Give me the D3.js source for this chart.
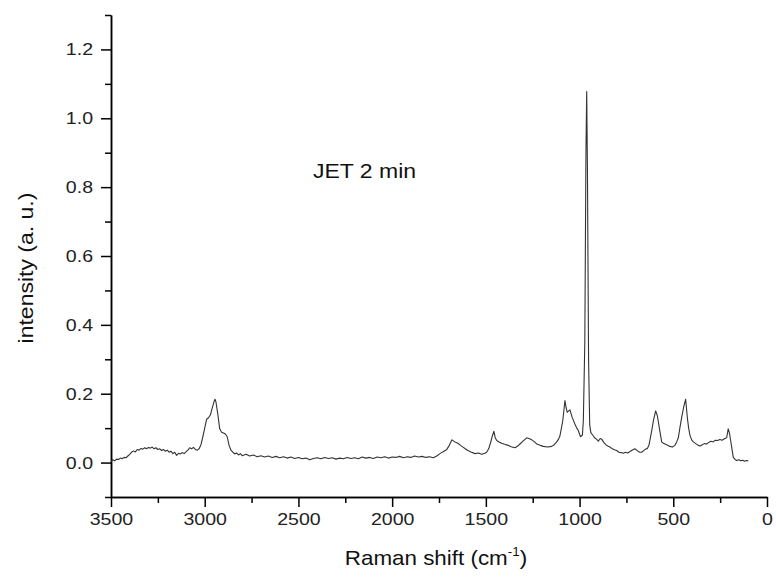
<!DOCTYPE html>
<meta charset="utf-8">
<style>
    body { margin: 0; background: #fff; }
    svg { font-family: "Liberation Sans", Arial, sans-serif; }
    .axis path, .axis line { stroke: #000; stroke-width: 1.5px; }
    .axis text { font-size: 17px; fill: #222; }
</style>
<body>
<div id="chart"></div>
<script src="https://cdn.jsdelivr.net/npm/d3@7"></script>
<script>
// Raman shift (cm-1)
var shift = [3500,3490,3480,3470,3460,3450,3440,3430,3420,3410,3400,3390,3380,3370,3360,3350,3340,3330,3320,3310,
    3300,3290,3280,3270,3260,3250,3240,3230,3220,3210,3200,3190,3180,3170,3160,3150,3140,3130,3120,3110,
    3100,3090,3080,3070,3060,3050,3040,3030,3020,3010,3000,2990,2980,2970,2960,2950,2945,2940,2930,2920,
    2910,2900,2890,2880,2870,2860,2850,2840,2830,2820,2810,2800,2780,2760,2740,2720,2700,2680,2660,2640,
    2620,2600,2580,2560,2540,2520,2500,2480,2460,2440,2420,2400,2380,2360,2340,2320,2300,2280,2260,2240,
    2220,2200,2180,2160,2140,2120,2100,2080,2060,2040,2020,2000,1980,1960,1940,1920,1900,1880,1860,1840,
    1820,1800,1780,1760,1745,1730,1710,1695,1681,1665,1649,1635,1622,1610,1596,1580,1558,1540,1522,1505,
    1496,1485,1474,1465,1457,1450,1442,1430,1416,1400,1382,1365,1345,1330,1318,1300,1282,1270,1255,1240,
    1229,1210,1193,1170,1149,1135,1122,1112,1105,1090,1078,1072,1066,1058,1051,1040,1025,1015,1007,995,
    985,980,972,966,962,958,952,946,940,930,920,910,900,890,882,870,860,850,838,825,
    815,802,790,778,767,755,743,731,720,705,690,680,669,655,645,639,630,615,605,594,
    585,575,562,553,544,530,518,505,491,482,473,465,455,445,434,425,418,411,402,393,
    380,367,355,345,335,322,312,300,287,276,265,251,240,225,215,207,200,194,187,180,
    170,162,150,140,130,120,110,100];

// intensity (a. u.)
var intensity = [0.004,0.008,0.005,0.010,0.009,0.013,0.011,0.015,0.014,0.019,0.024,0.030,0.034,0.031,0.038,0.036,0.041,0.039,0.043,0.040,
    0.044,0.042,0.045,0.040,0.043,0.038,0.040,0.035,0.038,0.033,0.036,0.030,0.033,0.026,0.030,0.021,0.027,0.025,0.029,0.026,
    0.031,0.036,0.043,0.040,0.044,0.038,0.036,0.040,0.052,0.075,0.100,0.126,0.130,0.138,0.158,0.178,0.184,0.176,0.140,0.098,
    0.088,0.086,0.083,0.075,0.050,0.036,0.030,0.025,0.028,0.022,0.026,0.020,0.024,0.019,0.022,0.017,0.020,0.016,0.019,0.015,
    0.018,0.014,0.017,0.013,0.016,0.012,0.015,0.011,0.013,0.008,0.012,0.014,0.011,0.015,0.012,0.014,0.010,0.013,0.011,0.015,
    0.012,0.014,0.011,0.016,0.013,0.015,0.012,0.016,0.014,0.017,0.013,0.016,0.015,0.018,0.014,0.017,0.015,0.019,0.016,0.018,
    0.015,0.017,0.014,0.020,0.026,0.031,0.037,0.050,0.066,0.060,0.056,0.050,0.045,0.040,0.035,0.031,0.026,0.028,0.024,0.027,
    0.030,0.040,0.059,0.078,0.091,0.072,0.064,0.060,0.056,0.053,0.050,0.046,0.043,0.048,0.054,0.063,0.072,0.070,0.066,0.060,
    0.054,0.050,0.047,0.045,0.047,0.052,0.060,0.068,0.077,0.120,0.180,0.160,0.146,0.150,0.153,0.132,0.112,0.100,0.093,0.075,
    0.080,0.120,0.350,0.900,1.078,0.850,0.300,0.110,0.087,0.080,0.072,0.068,0.062,0.070,0.068,0.058,0.052,0.048,0.045,0.040,
    0.037,0.035,0.030,0.029,0.027,0.030,0.028,0.032,0.036,0.040,0.034,0.030,0.030,0.036,0.040,0.040,0.050,0.093,0.125,0.150,
    0.136,0.102,0.060,0.056,0.054,0.050,0.047,0.045,0.050,0.060,0.072,0.100,0.132,0.160,0.184,0.130,0.100,0.079,0.066,0.060,
    0.055,0.050,0.048,0.052,0.055,0.054,0.058,0.062,0.060,0.065,0.064,0.067,0.065,0.070,0.072,0.098,0.085,0.064,0.040,0.015,
    0.009,0.006,0.008,0.005,0.007,0.004,0.006,0.005];

var xTicks = [3500, 3000, 2500, 2000, 1500, 1000, 500, 0];
var yTicks = [0.0, 0.2, 0.4, 0.6, 0.8, 1.0, 1.2];

var data = shift.map(function(s, i) { return {x: s, y: intensity[i]}; });

var W = 776, H = 579;
var margin = {top: 15, right: 9, bottom: 82, left: 111};
var width = W - margin.left - margin.right,
    height = H - margin.top - margin.bottom;

var x = d3.scaleLinear().domain([3500, 0]).range([0, width]);
var y = d3.scaleLinear().domain([-0.1, 1.3]).range([height, 0]);

var svg = d3.select("#chart").append("svg")
    .attr("width", W)
    .attr("height", H);

var g = svg.append("g")
    .attr("transform", "translate(" + margin.left + "," + margin.top + ")");

// minor ticks first, then major axes on top
g.append("g")
    .attr("class", "axis")
    .attr("transform", "translate(0," + height + ")")
    .call(d3.axisBottom(x).tickValues(d3.range(250, 3500, 500)).tickSize(6).tickFormat("").tickSizeOuter(0));

g.append("g")
    .attr("class", "axis")
    .call(d3.axisLeft(y).tickValues([-0.1, 0.1, 0.3, 0.5, 0.7, 0.9, 1.1, 1.3]).tickSize(6).tickFormat("").tickSizeOuter(0));

var xAxis = g.append("g")
    .attr("class", "axis")
    .attr("transform", "translate(0," + height + ")")
    .call(d3.axisBottom(x).tickValues(xTicks).tickSize(10).tickPadding(6).tickSizeOuter(0)
        .tickFormat(d3.format("d")));

var yAxis = g.append("g")
    .attr("class", "axis")
    .call(d3.axisLeft(y).tickValues(yTicks).tickSize(10).tickPadding(8).tickSizeOuter(0)
        .tickFormat(d3.format(".1f")));

var line = d3.line()
    .x(function(d) { return x(d.x); })
    .y(function(d) { return y(d.y); });

g.append("path")
    .datum(data)
    .attr("fill", "none")
    .attr("stroke", "#333")
    .attr("stroke-width", 1.1)
    .attr("stroke-linejoin", "round")
    .attr("d", line);

// annotation
g.append("text")
    .attr("class", "wide")
    .attr("x", 313 - margin.left)
    .attr("y", 178 - margin.top)
    .style("font-size", "20px")
    .style("fill", "#111")
    .text("JET 2 min");

// axis titles
svg.append("text")
    .attr("class", "wide")
    .attr("transform", "translate(33,268) rotate(-90)")
    .style("text-anchor", "middle")
    .style("font-size", "20px")
    .style("fill", "#111")
    .text("intensity (a. u.)");

var xt = svg.append("text")
    .attr("x", 436)
    .attr("y", 565)
    .style("text-anchor", "middle")
    .style("font-size", "20px")
    .style("fill", "#111");
xt.append("tspan").text("Raman shift (cm");
xt.append("tspan").attr("dy", -9).style("font-size", "12px").text("-1");
xt.append("tspan").attr("dy", 9).text(")");

// the original glyphs are a bit wider than Liberation Sans, stretch them sideways
svg.selectAll(".axis text, text.wide").each(function() {
    var w = this.getComputedTextLength();
    d3.select(this).attr("textLength", w * 1.15).attr("lengthAdjust", "spacingAndGlyphs");
});
xt.attr("transform", "translate(436,0) scale(1.12,1) translate(-436,0)");
</script>
</body>
